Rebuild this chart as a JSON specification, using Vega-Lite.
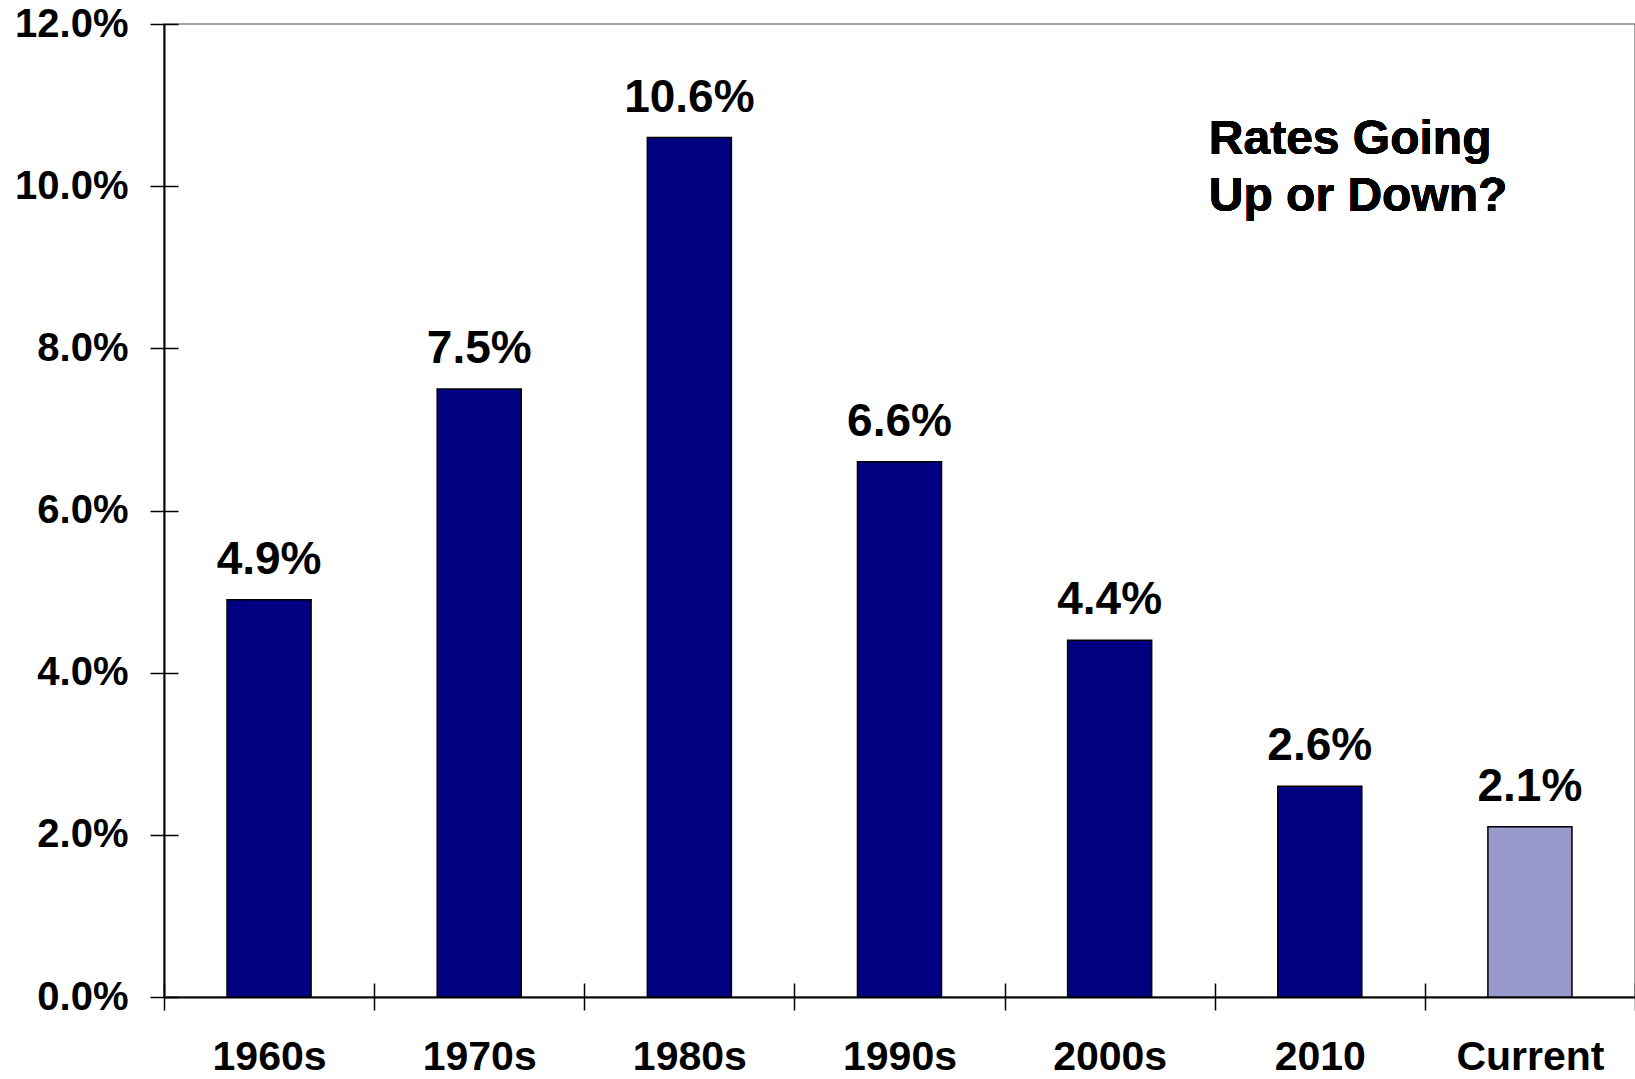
{
  "$schema": "https://vega.github.io/schema/vega-lite/v6.json",
  "width": 1471,
  "height": 973,
  "autosize": {"type": "none"},
  "padding": {"left": 164, "top": 24, "right": 0, "bottom": 82},
  "background": "white",
  "config": {
    "font": "Liberation Sans",
    "view": {"stroke": "#888888", "strokeWidth": 1.5}
  },
  "data": {
    "values": [
      {"period": "1960s", "rate": 0.049, "type": "historical"},
      {"period": "1970s", "rate": 0.075, "type": "historical"},
      {"period": "1980s", "rate": 0.106, "type": "historical"},
      {"period": "1990s", "rate": 0.066, "type": "historical"},
      {"period": "2000s", "rate": 0.044, "type": "historical"},
      {"period": "2010", "rate": 0.026, "type": "historical"},
      {"period": "Current", "rate": 0.021, "type": "current"}
    ]
  },
  "resolve": {
    "scale": {"x": "shared", "y": "shared"},
    "axis": {"x": "independent", "y": "independent"}
  },
  "layer": [
    {
      "mark": {"type": "bar", "width": {"band": 0.4}, "stroke": "black", "strokeWidth": 1.5},
      "encoding": {
        "x": {
          "field": "period", "type": "nominal", "sort": null,
          "scale": {"paddingInner": 0, "paddingOuter": 0},
          "axis": {
            "orient": "bottom", "title": null, "labelAngle": 0,
            "labelFont": "Liberation Sans", "labelFontSize": 41, "labelFontWeight": "bold",
            "labelColor": "black", "labelPadding": 27, "labelLimit": 400,
            "tickBand": "extent", "tickSize": 13, "tickColor": "black", "tickWidth": 1.5,
            "domainColor": "black", "domainWidth": 2
          }
        },
        "y": {
          "field": "rate", "type": "quantitative",
          "scale": {"domain": [0, 0.12], "nice": false, "zero": true},
          "axis": {
            "orient": "left", "title": null, "grid": false,
            "values": [0, 0.02, 0.04, 0.06, 0.08, 0.1, 0.12], "format": ".1%",
            "labelFont": "Liberation Sans", "labelFontSize": 40, "labelFontWeight": "bold",
            "labelColor": "black", "labelPadding": 22,
            "tickSize": 14, "tickColor": "black", "tickWidth": 1.5,
            "domainColor": "black", "domainWidth": 2
          }
        },
        "color": {
          "field": "type", "type": "nominal",
          "scale": {"domain": ["historical", "current"], "range": ["#000080", "#9999CC"]},
          "legend": null
        }
      }
    },
    {
      "mark": {"type": "text", "font": "Liberation Sans", "fontSize": 46, "fontWeight": "bold", "color": "black", "baseline": "alphabetic", "dy": -26},
      "encoding": {
        "x": {
          "field": "period", "type": "nominal", "sort": null,
          "axis": {
            "orient": "bottom", "title": null, "labels": false, "domain": false,
            "tickBand": "extent", "tickSize": -14, "tickColor": "black", "tickWidth": 1.5
          }
        },
        "y": {
          "field": "rate", "type": "quantitative",
          "axis": {
            "orient": "left", "title": null, "labels": false, "domain": false, "grid": false,
            "values": [0, 0.02, 0.04, 0.06, 0.08, 0.1, 0.12],
            "tickSize": -14, "tickColor": "black", "tickWidth": 1.5
          }
        },
        "text": {"field": "rate", "type": "quantitative", "format": ".1%"}
      }
    },
    {
      "mark": {"type": "text", "font": "Liberation Sans", "fontSize": 48, "fontWeight": "bold", "color": "black", "align": "left", "baseline": "alphabetic", "lineHeight": 57, "dx": -111, "text": ["Rates Going", "Up or Down?"]},
      "encoding": {
        "x": {"datum": "2010", "type": "nominal", "axis": null},
        "y": {"datum": 0.104, "type": "quantitative", "axis": null}
      }
    }
  ]
}
